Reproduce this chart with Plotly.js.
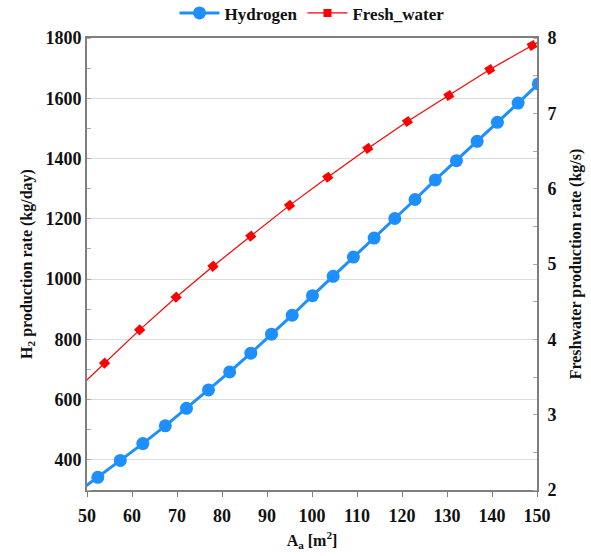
<!DOCTYPE html>
<html>
<head>
<meta charset="utf-8">
<script src="https://cdn.plot.ly/plotly-3.0.1.min.js"></script>
<style>html,body{margin:0;padding:0;background:#fff;}#chart{width:591px;height:556px;}</style>
</head>
<body>
<div id="chart"></div>
<script>
// Hydrogen production (left axis, kg/day) vs absorber area A_a (m^2)
const areaH2 = [47.5, 52.4, 57.4, 62.4, 67.4, 72.1, 77.0, 81.7, 86.4, 91.0, 95.6, 100.1, 104.7, 109.2, 113.8, 118.4, 122.9, 127.4, 132.1, 136.7, 141.2, 145.8, 150.3];
const hydrogen = [288, 342, 398, 454, 513, 571, 632, 692, 754, 817, 880, 945, 1009, 1073, 1136, 1201, 1264, 1329, 1393, 1457, 1520, 1584, 1648];

// Freshwater production (right axis, kg/s)
const areaFW = [46.1, 53.9, 61.7, 69.8, 78.0, 86.4, 95.0, 103.5, 112.4, 121.2, 130.4, 139.5, 148.9, 158.3];
const freshWater = [3.24, 3.685, 4.126, 4.559, 4.970, 5.371, 5.778, 6.152, 6.534, 6.891, 7.238, 7.583, 7.901, 8.21];

// Axis tick labels
const xTicks = [50, 60, 70, 80, 90, 100, 110, 120, 130, 140, 150];
const yTicks = [400, 600, 800, 1000, 1200, 1400, 1600, 1800];
const y2Ticks = [2, 3, 4, 5, 6, 7, 8];

const FONT = 'Liberation Serif, Times New Roman, serif';
const spine = '#7f7f7f';
const TICK = 18;
const TITLE = 16;

const traces = [
  {
    x: areaH2, y: hydrogen, name: 'Hydrogen', type: 'scatter', mode: 'lines+markers',
    line: {color: '#1E8FFF', width: 3},
    marker: {color: '#1E8FFF', size: 13, symbol: 'circle'},
    yaxis: 'y'
  },
  {
    x: areaFW, y: freshWater, name: 'Fresh_water', type: 'scatter', mode: 'lines+markers',
    line: {color: '#FF0000', width: 1.2},
    marker: {color: '#FF0000', size: 8, symbol: 'square', angleref: 'previous', angle: 0},
    yaxis: 'y2'
  }
];

const layout = {
  width: 591, height: 556,
  margin: {l: 87, r: 54, t: 38, b: 66, autoexpand: false},
  paper_bgcolor: '#fff', plot_bgcolor: '#fff',
  font: {family: FONT, size: 15, color: '#111', weight: 'bold'},
  showlegend: true,
  legend: {orientation: 'h', xref: 'paper', x: 0.5, xanchor: 'center',
           yref: 'container', y: 0.976, yanchor: 'middle',
           font: {family: FONT, size: 17, weight: 'bold'}, itemwidth: 40},
  xaxis: {
    range: [50, 150], tickvals: xTicks, ticktext: xTicks.map(String),
    showline: true, linecolor: spine, linewidth: 2, mirror: true,
    ticks: 'outside', ticklen: 5, tickcolor: spine, tickwidth: 1,
    ticklabelstandoff: 3,
    showgrid: false, zeroline: false,
    tickfont: {family: FONT, size: TICK, weight: 'bold'},
    title: {text: 'A<sub>a</sub> [m<sup>2</sup>]', font: {family: FONT, size: TITLE, weight: 'bold'}, standoff: 10}
  },
  yaxis: {
    range: [300, 1800], tickvals: yTicks, ticktext: yTicks.map(String),
    showline: true, linecolor: spine, linewidth: 2,
    ticks: '', showgrid: true, gridcolor: '#dcdcdc', gridwidth: 1, zeroline: false,
    minor: {dtick: 100, tick0: 300, ticks: 'inside', ticklen: 4, tickcolor: '#aaa', showgrid: false},
    tickfont: {family: FONT, size: TICK, weight: 'bold'},
    title: {text: 'H<sub>2</sub> production rate (kg/day)', font: {family: FONT, size: TITLE, weight: 'bold'}, standoff: 9}
  },
  yaxis2: {
    overlaying: 'y', side: 'right',
    range: [2, 8], tickvals: y2Ticks, ticktext: y2Ticks.map(String),
    showline: true, linecolor: spine, linewidth: 2,
    ticks: '', showgrid: false, zeroline: false,
    ticklabelstandoff: 5,
    minor: {dtick: 0.5, tick0: 2, ticks: 'inside', ticklen: 4, tickcolor: '#aaa', showgrid: false},
    tickfont: {family: FONT, size: TICK, weight: 'bold'},
    title: {text: 'Freshwater production rate (kg/s)', font: {family: FONT, size: TITLE, weight: 'bold'}, standoff: 14}
  }
};

Plotly.newPlot('chart', traces, layout, {displayModeBar: false, staticPlot: true});
</script>
</body>
</html>
